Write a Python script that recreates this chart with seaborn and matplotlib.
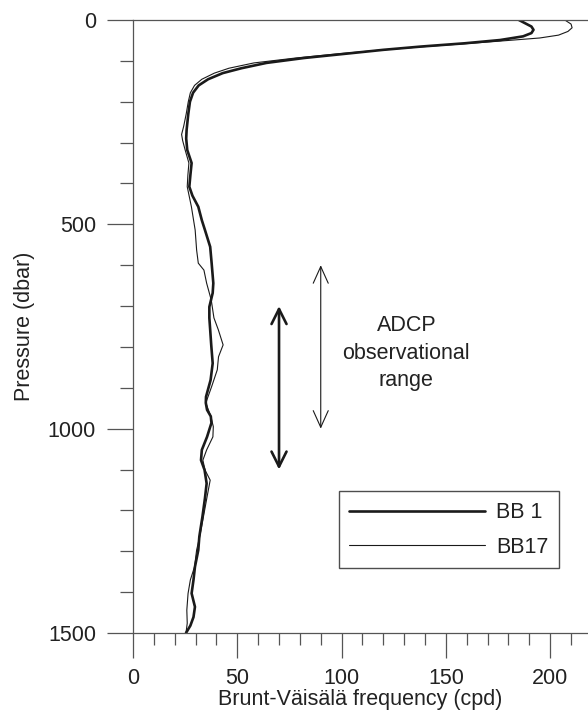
import matplotlib
matplotlib.use("Agg")
import matplotlib.pyplot as plt
import seaborn as sns
import numpy as np
import pandas as pd

# ---- data ----
bb1_pressure = [0, 8, 16, 24, 32, 40, 49, 57, 65, 73, 82, 93, 105, 118, 130, 145, 160,
                178, 200, 230, 269, 290, 318, 350, 380, 408, 430, 457, 490, 514, 555,
                595, 644, 668, 702, 729, 758, 795, 840, 881, 922, 937, 954, 970, 986,
                1020, 1052, 1077, 1101, 1134, 1170, 1215, 1264, 1297, 1338, 1370, 1403,
                1436, 1461, 1482, 1500]
bb1_freq = [185, 188, 191, 192, 191, 187, 176, 159, 138, 120, 103, 82, 64, 52, 43, 36,
            31.5, 28.8, 27.3, 26.5, 25.7, 25.5, 26, 28.1, 27.5, 27, 28.5, 31.3, 33, 34.5,
            37, 37.7, 38.5, 38.2, 36.6, 36.6, 37, 37.5, 38.2, 37.2, 35, 34.9, 35.5, 37.3,
            37.6, 35.5, 33, 32.6, 34.3, 35.3, 34.5, 33.3, 31.8, 31.3, 29.7, 29, 28.1,
            29.7, 29, 27.5, 25.4]

bb17_pressure = [0, 10, 19, 28, 37, 44, 50, 57, 65, 73, 82, 93, 105, 118, 130, 145, 160,
                 178, 200, 230, 260, 280, 295, 318, 350, 380, 408, 457, 514, 563, 595,
                 612, 644, 685, 729, 758, 795, 824, 856, 897, 937, 970, 995, 1020, 1052,
                 1077, 1101, 1126, 1167, 1223, 1264, 1297, 1338, 1370, 1403, 1444, 1476,
                 1500]
bb17_freq = [207, 210, 210.5, 208.5, 204, 195, 180, 162, 140, 120, 100, 78, 58, 46, 39,
             33, 29.5, 27.5, 26.5, 25.5, 24.3, 23.3, 23.8, 25, 26.8, 26.3, 26, 28, 29.8,
             30.5, 31.3, 34, 35.3, 37.5, 38.8, 40.9, 43.2, 41, 40.4, 37.7, 34.9, 37.3,
             38.5, 38.3, 35.3, 33.5, 34.5, 37, 35.5, 33.5, 32, 30.5, 29.5, 27.5, 26.4,
             25.8, 26, 25.4]

series_labels = ["BB 1", "BB17"]
x_ticks = [0, 50, 100, 150, 200]
y_ticks = [0, 500, 1000, 1500]
thick_arrow = (70, 700, 1100)   # x, p_top, p_bottom
thin_arrow = (90, 600, 1000)
annot_text = "ADCP\nobservational\nrange"

# ---- style ----
sns.set_theme(style="white")
plt.rcParams["font.family"] = ["Liberation Sans", "DejaVu Sans"]
FS = 15.5
axcol = "#555555"
linecol = "#1a1a1a"
txtcol = "#222222"

fig = plt.figure(figsize=(5.88, 7.23), dpi=100)
ax = fig.add_axes([133 / 588, 1 - 633 / 723, 1 - 133 / 588, (633 - 20) / 723])

sns.lineplot(x=bb1_freq, y=bb1_pressure, sort=False, estimator=None, ax=ax,
             color=linecol, lw=1.9, label=series_labels[0])
sns.lineplot(x=bb17_freq, y=bb17_pressure, sort=False, estimator=None, ax=ax,
             color=linecol, lw=0.8, label=series_labels[1])

ax.set_xlim(0, (588 - 133) / 2.086)
ax.set_ylim(1500, 0)

ax.set_xticks(x_ticks)
ax.set_xticks(np.arange(0, 220, 10), minor=True)
ax.set_yticks(y_ticks)
ax.set_yticks(np.arange(0, 1600, 100), minor=True)
ax.tick_params(axis="both", which="both", direction="out", color=axcol, width=0.9,
               labelsize=FS, labelcolor=txtcol)
ax.tick_params(axis="x", which="major", length=18, pad=7, bottom=True)
ax.tick_params(axis="x", which="minor", length=8.6, bottom=True)
ax.tick_params(axis="y", which="major", length=18.7, pad=8, left=True)
ax.tick_params(axis="y", which="minor", length=9.4, left=True)

for s in ["left", "bottom", "top"]:
    ax.spines[s].set_visible(True)
    ax.spines[s].set_color(axcol)
    ax.spines[s].set_linewidth(0.9)
ax.spines["right"].set_visible(False)

ax.set_xlabel("Brunt-Väisälä frequency (cpd)", fontsize=FS, color=txtcol, labelpad=0)
ax.set_ylabel("Pressure (dbar)", fontsize=FS, color=txtcol, labelpad=9)

# arrows
for (xa, p0, p1), lw, hl, hw in [(thick_arrow, 1.9, 0.9, 0.45), (thin_arrow, 0.8, 1.0, 0.45)]:
    ax.annotate("", xy=(xa, p0), xytext=(xa, p1),
                arrowprops=dict(arrowstyle=f"<->,head_length={hl},head_width={hw}",
                                color=linecol, lw=lw, shrinkA=0, shrinkB=0,
                                mutation_scale=12))

ax.text(131, 815, annot_text, ha="center", va="center", fontsize=FS,
        color=txtcol, linespacing=1.38)

leg = ax.legend(loc="lower right", bbox_to_anchor=(0.9363, 0.1055), fontsize=FS,
                frameon=True, fancybox=False, handlelength=6.3, handletextpad=0.5,
                borderpad=0.5, labelspacing=0.62, borderaxespad=0)
leg.get_frame().set_edgecolor(txtcol)
leg.get_frame().set_linewidth(1.0)
for t in leg.get_texts():
    t.set_color(txtcol)

fig.savefig("out.png", dpi=100)
